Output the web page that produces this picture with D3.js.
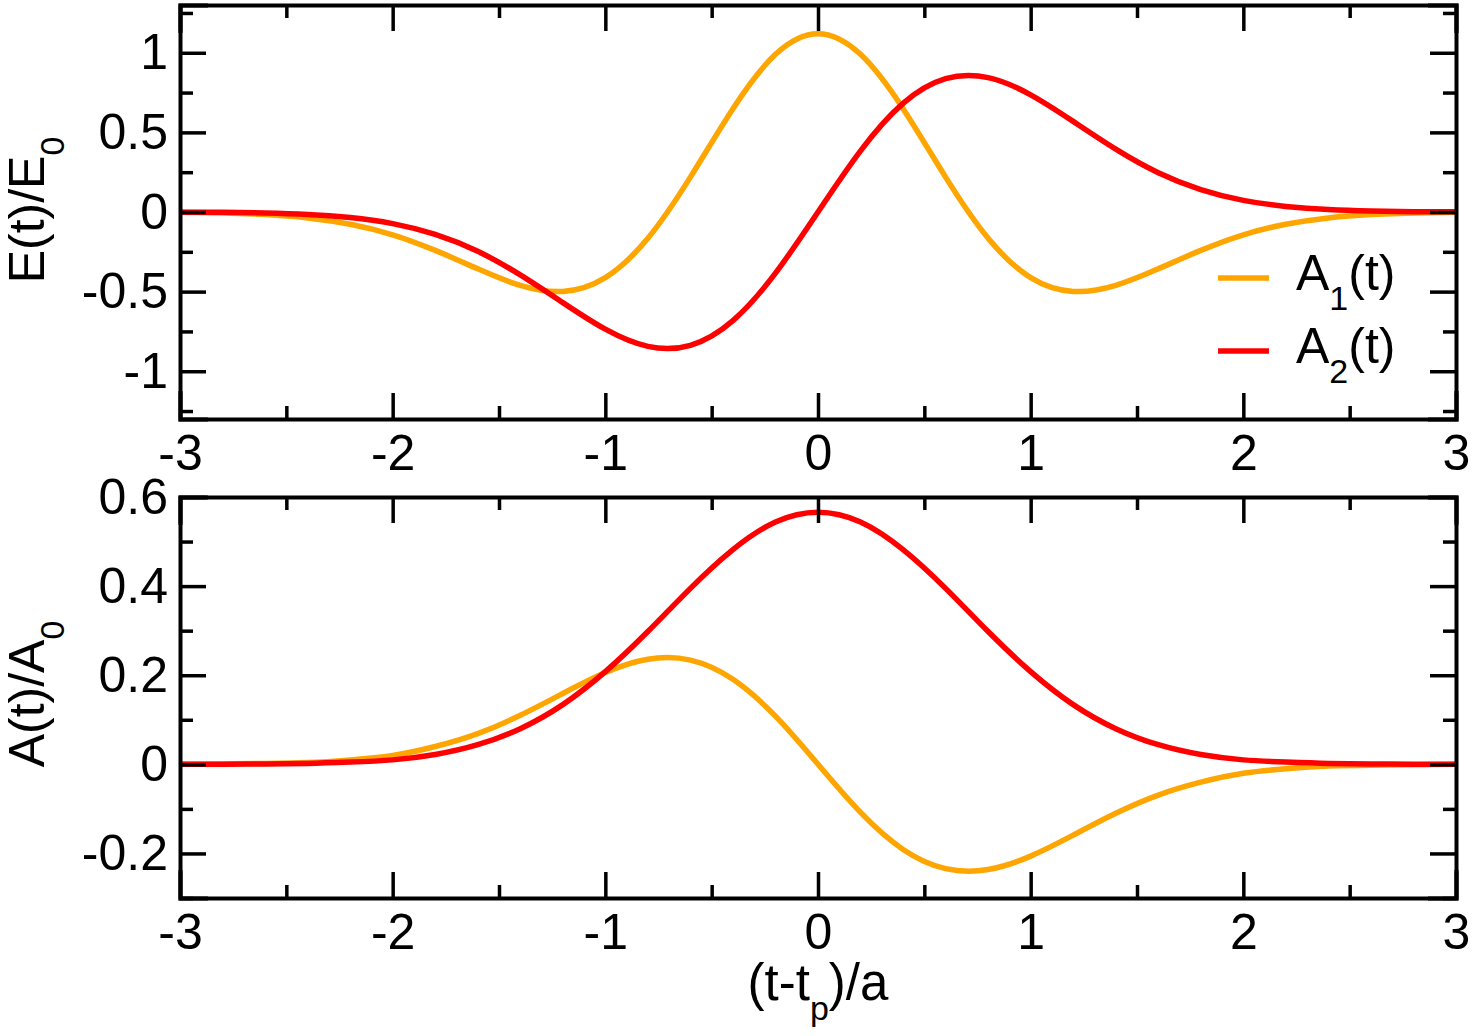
<!DOCTYPE html>
<html>
<head>
<meta charset="utf-8">
<script src="https://cdn.jsdelivr.net/npm/d3@7"></script>
<style>
  body { margin: 0; background: #fff; }
  svg { font-family: "Liberation Sans", Arial, Helvetica, sans-serif; }
  svg text { fill: #000; }
  .frame path.domain { stroke: #000; stroke-width: 4; }
  .frame .tick line { stroke: #000; stroke-width: 3.5; }
  .frame .tick text { font-size: 50px; fill: #000; }
</style>
</head>
<body>
<div id="chart"></div>
<script>
// sample points of the reduced time (t-tp)/a
const tValues = [-3.0, -2.8, -2.6, -2.4, -2.2, -2.0, -1.8, -1.6, -1.4, -1.2, -1.0, -0.8, -0.6, -0.4, -0.2,
  0.0, 0.2, 0.4, 0.6, 0.8, 1.0, 1.2, 1.4, 1.6, 1.8, 2.0, 2.2, 2.4, 2.6, 2.8, 3.0];

// top panel : E(t)/E0
const e1 = [-0.002, -0.006, -0.016, -0.037, -0.077, -0.143, -0.241, -0.357, -0.461, -0.499, -0.412, -0.165, 0.219, 0.649, 0.990,
  1.120, 0.990, 0.649, 0.219, -0.165, -0.412, -0.499, -0.461, -0.357, -0.241, -0.143, -0.077, -0.037, -0.016, -0.006, -0.002];
const e2 = [-0.001, -0.002, -0.006, -0.015, -0.035, -0.073, -0.141, -0.247, -0.395, -0.569, -0.736, -0.844, -0.837, -0.682, -0.384,
  0.000, 0.384, 0.682, 0.837, 0.844, 0.736, 0.569, 0.395, 0.247, 0.141, 0.073, 0.035, 0.015, 0.006, 0.002, 0.001];

// bottom panel : A(t)/A0
const a1 = [0.000, 0.001, 0.002, 0.004, 0.010, 0.020, 0.040, 0.069, 0.110, 0.159, 0.206, 0.236, 0.234, 0.191, 0.108,
  0.000, -0.108, -0.191, -0.234, -0.236, -0.206, -0.159, -0.110, -0.069, -0.040, -0.020, -0.010, -0.004, -0.002, -0.001, 0.000];
const a2 = [0.000, 0.000, 0.001, 0.002, 0.005, 0.010, 0.022, 0.044, 0.080, 0.134, 0.208, 0.298, 0.395, 0.482, 0.544,
  0.566, 0.544, 0.482, 0.395, 0.298, 0.208, 0.134, 0.080, 0.044, 0.022, 0.010, 0.005, 0.002, 0.001, 0.000, 0.000];

const xTicks = [-3, -2, -1, 0, 1, 2, 3];
const xMinor = [-2.5, -1.5, -0.5, 0.5, 1.5, 2.5];
const eTicks = [-1, -0.5, 0, 0.5, 1];
const eMinor = [-1.25, -0.75, -0.25, 0.25, 0.75, 1.25];
const aTicks = [-0.2, 0, 0.2, 0.4, 0.6];
const aMinor = [-0.3, -0.1, 0.1, 0.3, 0.5];

const legendNames = ["A", "A"];
const legendSubs = ["1", "2"];
const colors = ["#ffa500", "#ff0000"];

const W = 1475, H = 1036;
const left = 180, right = 1456;

const svg = d3.select("#chart").append("svg")
  .attr("width", W)
  .attr("height", H);

const x = d3.scaleLinear().domain([-3, 3]).range([left, right]);

// plain hyphen for negatives, like the original plot
const fmtX = d => String(d);
const fmtE = d => String(d);
const fmtA = d => d === 0 ? "0" : d.toFixed(1);

function panel(top, bottom, yDomain, ticks, minor, fmt, series) {
  const y = d3.scaleLinear().domain(yDomain).range([bottom, top]);
  const g = svg.append("g").attr("class", "frame");

  // curves first, frame drawn over them
  const line = d3.line()
    .x((d, i) => x(tValues[i]))
    .y(d => y(d))
    .curve(d3.curveNatural);

  series.forEach((s, k) => {
    g.append("path")
      .attr("d", line(s))
      .attr("fill", "none")
      .attr("stroke", colors[k])
      .attr("stroke-width", 5.5);
  });

  // bottom
  g.append("g").attr("transform", `translate(0,${bottom})`)
    .call(d3.axisBottom(x).tickValues(xTicks).tickSize(-26).tickPadding(15).tickFormat(fmtX));
  g.append("g").attr("transform", `translate(0,${bottom})`)
    .call(d3.axisBottom(x).tickValues(xMinor).tickSize(-13).tickFormat(""))
    .select(".domain").remove();
  // top
  g.append("g").attr("transform", `translate(0,${top})`)
    .call(d3.axisTop(x).tickValues(xTicks).tickSize(-26).tickFormat(""));
  g.append("g").attr("transform", `translate(0,${top})`)
    .call(d3.axisTop(x).tickValues(xMinor).tickSize(-13).tickFormat(""))
    .select(".domain").remove();
  // left
  g.append("g").attr("transform", `translate(${left},0)`)
    .call(d3.axisLeft(y).tickValues(ticks).tickSize(-26).tickPadding(12).tickFormat(fmt));
  g.append("g").attr("transform", `translate(${left},0)`)
    .call(d3.axisLeft(y).tickValues(minor).tickSize(-13).tickFormat(""))
    .select(".domain").remove();
  // right
  g.append("g").attr("transform", `translate(${right},0)`)
    .call(d3.axisRight(y).tickValues(ticks).tickSize(-26).tickFormat(""));
  g.append("g").attr("transform", `translate(${right},0)`)
    .call(d3.axisRight(y).tickValues(minor).tickSize(-13).tickFormat(""))
    .select(".domain").remove();

  g.selectAll(".domain").attr("stroke-linecap", "square");
  return y;
}

panel(5, 419, [-1.3, 1.3], eTicks, eMinor, fmtE, [e1, e2]);
panel(497, 898, [-0.3, 0.6], aTicks, aMinor, fmtA, [a1, a2]);

// text with a lowered subscript
function subLabel(sel, main, sub, tail) {
  sel.append("tspan").attr("fill", "#000").text(main);
  sel.append("tspan").attr("fill", "#000").attr("font-size", 34).attr("dy", 20).text(sub);
  if (tail) sel.append("tspan").attr("fill", "#000").attr("dy", -20).text(tail);
}

const yt1 = svg.append("text")
  .attr("transform", "translate(44,210) rotate(-90)")
  .attr("text-anchor", "middle")
  .attr("font-size", 50);
subLabel(yt1, "E(t)/E", "0");

const yt2 = svg.append("text")
  .attr("transform", "translate(44,694) rotate(-90)")
  .attr("text-anchor", "middle")
  .attr("font-size", 50);
subLabel(yt2, "A(t)/A", "0");

const xt = svg.append("text")
  .attr("x", x(0))
  .attr("y", 1000)
  .attr("text-anchor", "middle")
  .attr("font-size", 51);
subLabel(xt, "(t-t", "p", ")/a");

// legend
const legY = [278, 351];
legendNames.forEach((n, k) => {
  svg.append("line")
    .attr("x1", 1218).attr("x2", 1269)
    .attr("y1", legY[k]).attr("y2", legY[k])
    .attr("stroke", colors[k])
    .attr("stroke-width", 5.5);
  const t = svg.append("text")
    .attr("x", 1296)
    .attr("y", legY[k] + 12)
    .attr("font-size", 50);
  subLabel(t, n, legendSubs[k], "(t)");
});
</script>
</body>
</html>
